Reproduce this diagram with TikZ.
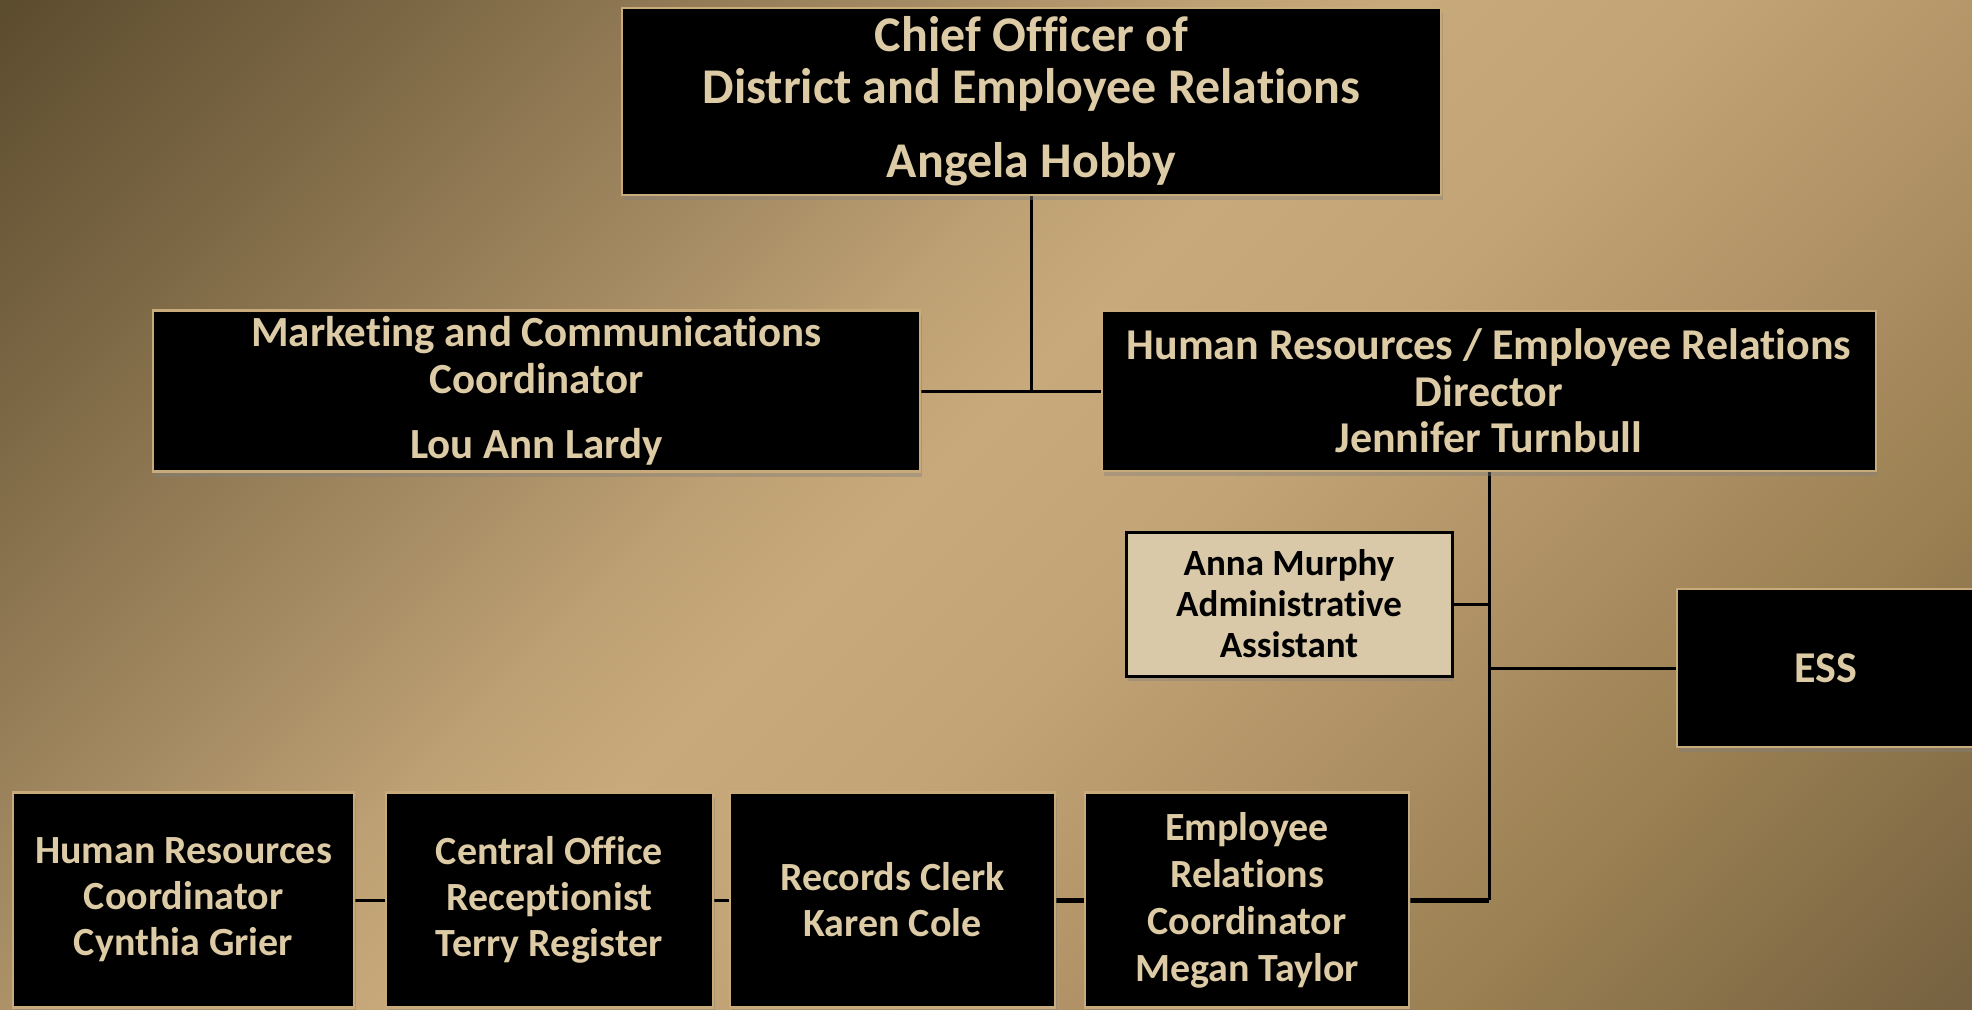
\documentclass[tikz,border=0pt]{standalone}
\usepackage{fontspec}
\setmainfont{Carlito}[Ligatures=NoCommon]
\usetikzlibrary{shadows}
\definecolor{g00}{HTML}{6F5A3B}
\definecolor{g15}{HTML}{776241}
\definecolor{g27}{HTML}{9A8052}
\definecolor{g36}{HTML}{B09266}
\definecolor{g45}{HTML}{C3A476}
\definecolor{g52}{HTML}{C8A97B}
\definecolor{g57}{HTML}{BDA073}
\definecolor{g65}{HTML}{A08760}
\definecolor{g75}{HTML}{7E6946}
\definecolor{g85}{HTML}{5D4D2F}
\definecolor{boxborder}{HTML}{C9AA7B}
\definecolor{txtcream}{HTML}{DDCBA6}
\definecolor{annafill}{HTML}{D9C9A9}
\pgfdeclareverticalshading{bgshade}{100bp}{color(0bp)=(g00); color(15bp)=(g15); color(27bp)=(g27); color(36bp)=(g36); color(45bp)=(g45); color(52bp)=(g52); color(57bp)=(g57); color(65bp)=(g65); color(75bp)=(g75); color(85bp)=(g85); color(100bp)=(g85)}
\pgfdeclarelayer{bgl}
\pgfdeclarelayer{mid}
\pgfsetlayers{bgl,mid,main}
\tikzset{
  dbox/.style={draw=boxborder, line width=2.8pt, fill=black, text=txtcream, align=center, inner sep=0pt,
    drop shadow={shadow xshift=2pt, shadow yshift=-5pt, opacity=0.4}},
  abox/.style={draw=black, line width=3pt, fill=annafill, text=black, align=center, inner sep=0pt,
    drop shadow={shadow xshift=2pt, shadow yshift=-5pt, opacity=0.4}},
  sz/.style 2 args={minimum width=#1, minimum height=#2},
  conn/.style={draw=black, line width=3pt},
  connthick/.style={draw=black, line width=5pt},
  ftop/.style={font=\fontsize{50}{52}\selectfont\bfseries},
  fmid/.style={font=\fontsize{43}{47}\selectfont\bfseries},
  fhr/.style={font=\fontsize{44}{46.5}\selectfont\bfseries},
  fanna/.style={font=\fontsize{37}{41}\selectfont\bfseries},
  fbot/.style={font=\fontsize{40}{46}\selectfont\bfseries},
  fbotb/.style={font=\fontsize{40}{47}\selectfont\bfseries},
}
\begin{document}
\begin{tikzpicture}[x=1pt,y=-1pt]
\useasboundingbox (0,0) rectangle (1972,1009);
\begin{pgfonlayer}{bgl}
\shade[shading=bgshade, shading angle=45] (0,0) rectangle (1972,1009);
\end{pgfonlayer}

\node[dbox, ftop, sz={819pt}{187pt}] (chief) at (1031.5,101.5)
  {Chief Officer of\\District and Employee Relations\\[22pt]Angela Hobby};
\node[dbox, fmid, sz={767pt}{161pt}] (mkt) at (536.5,391)
  {Marketing and Communications\\Coordinator\\[18pt]Lou Ann Lardy};
\node[dbox, fhr, sz={774pt}{160pt}] (hrd) at (1489,391)
  {Human Resources / Employee Relations\\Director\\Jennifer Turnbull};
\node[abox, fanna, sz={326pt}{144pt}] (anna) at (1289,604)
  {Anna Murphy\\Administrative\\Assistant};
\node[dbox, fhr, sz={298pt}{158pt}] (ess) at (1826,668) {ESS};
\node[dbox, fbot, sz={341pt}{215pt}] (hrc) at (183.5,900)
  {Human Resources\\Coordinator\\Cynthia Grier};
\node[dbox, fbot, sz={327pt}{215pt}] (cor) at (549.5,900)
  {Central Office\\Receptionist\\Terry Register};
\node[dbox, fbot, sz={325pt}{215pt}] (rec) at (892.5,900)
  {Records Clerk\\Karen Cole};
\node[dbox, fbotb, sz={324pt}{215pt}] (erc) at (1247,900)
  {Employee\\Relations\\Coordinator\\Megan Taylor};

\begin{pgfonlayer}{mid}
\draw[conn] (chief.south) -- (chief.south |- mkt.east);
\draw[conn] (mkt.east) -- (hrd.west);
\draw[conn] (hrd.south) -- (hrd.south |- erc.east);
\draw[conn] (anna.east) -- (anna.east -| hrd.south);
\draw[conn] (ess.west -| hrd.south) -- (ess.west);
\draw[connthick] (erc.east) -- (erc.east -| hrd.south);
\draw[conn] (hrc.east) -- (cor.west);
\draw[conn] (cor.east) -- (rec.west);
\draw[connthick] (rec.east) -- (erc.west);
\end{pgfonlayer}
\end{tikzpicture}
\end{document}
